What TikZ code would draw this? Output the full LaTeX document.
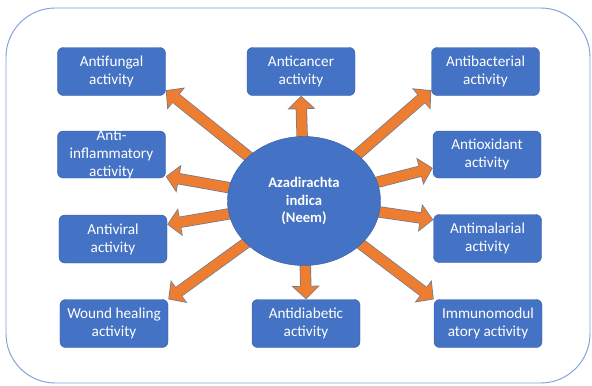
\documentclass[tikz,border=0pt]{standalone}
\usepackage{fontspec}
\setmainfont{Carlito}
\usetikzlibrary{arrows.meta,%
                shapes.geometric,%
                backgrounds}
\definecolor{neemblue}{HTML}{4472C4}
\definecolor{neemedge}{HTML}{3A62AC}
\definecolor{neemorange}{HTML}{ED7D31}
\definecolor{arrowedge}{HTML}{6C7A93}
\definecolor{frameblue}{HTML}{7F9FD6}

\begin{document}
\begin{tikzpicture}
  [x=0.03cm,y=-0.03cm,
   act/.style={draw=neemedge,fill=neemblue,rounded corners=5pt,text=white,
     minimum width=3.24cm,minimum height=1.44cm,align=center,inner sep=1pt,
     font=\fontsize{13}{15.4}\selectfont},
   ray/.style={draw=neemorange,line width=8.5pt,shorten <=-4pt,shorten >=0.84pt,
     -{Triangle[length=10pt,width=20.5pt]},
     preaction={draw=arrowedge,line width=9.7pt,shorten <=-4pt,shorten >=0pt,
       -{Triangle[length=11.4pt,width=23.4pt]}}}]
  \useasboundingbox (0,0) rectangle (592,385);
  \node[ellipse,draw=neemedge,fill=neemblue,text=white,inner sep=0pt,
        minimum width=4.59cm,minimum height=3.87cm,align=center,
        font=\bfseries\fontsize{12.5}{14.9}\selectfont]
        (neem) at (304,201) {Azadirachta\\indica\\(Neem)};
  \node[act] (fungal) at (111.5,71.5) {Antifungal\\activity};
  \node[act] (cancer) at (301,71.5)   {Anticancer\\activity};
  \node[act] (bact) at (485.5,71.5)   {Antibacterial\\activity};
  \node[act,minimum height=1.41cm,inner ysep=-1.5pt] (inflam) at (111.5,154.5) {Anti-\\inflammatory\\activity};
  \node[act,minimum height=1.41cm] (oxid) at (487,154.5) {Antioxidant\\activity};
  \node[act] (viral) at (113,239)     {Antiviral\\activity};
  \node[act] (malar) at (487.5,238.5) {Antimalarial\\activity};
  \node[act] (wound) at (114,323.5)   {Wound healing\\activity};
  \node[act] (diab) at (306,323.5)    {Antidiabetic\\activity};
  \node[act] (immuno) at (488,323.5)  {Immunomodul\\atory activity};
  \begin{scope}[on background layer]
    \draw[frameblue,line width=0.8pt,rounded corners=42pt] (6,8) rectangle (590,383);
    \foreach \to/\at in {fungal/-19,inflam/-22,cancer/south,bact/199,oxid/194,viral/15,malar/161,wound/24,diab/north,immuno/156}
      \draw[ray] (neem) -- (\to.\at);
  \end{scope}
\end{tikzpicture}
\end{document}
